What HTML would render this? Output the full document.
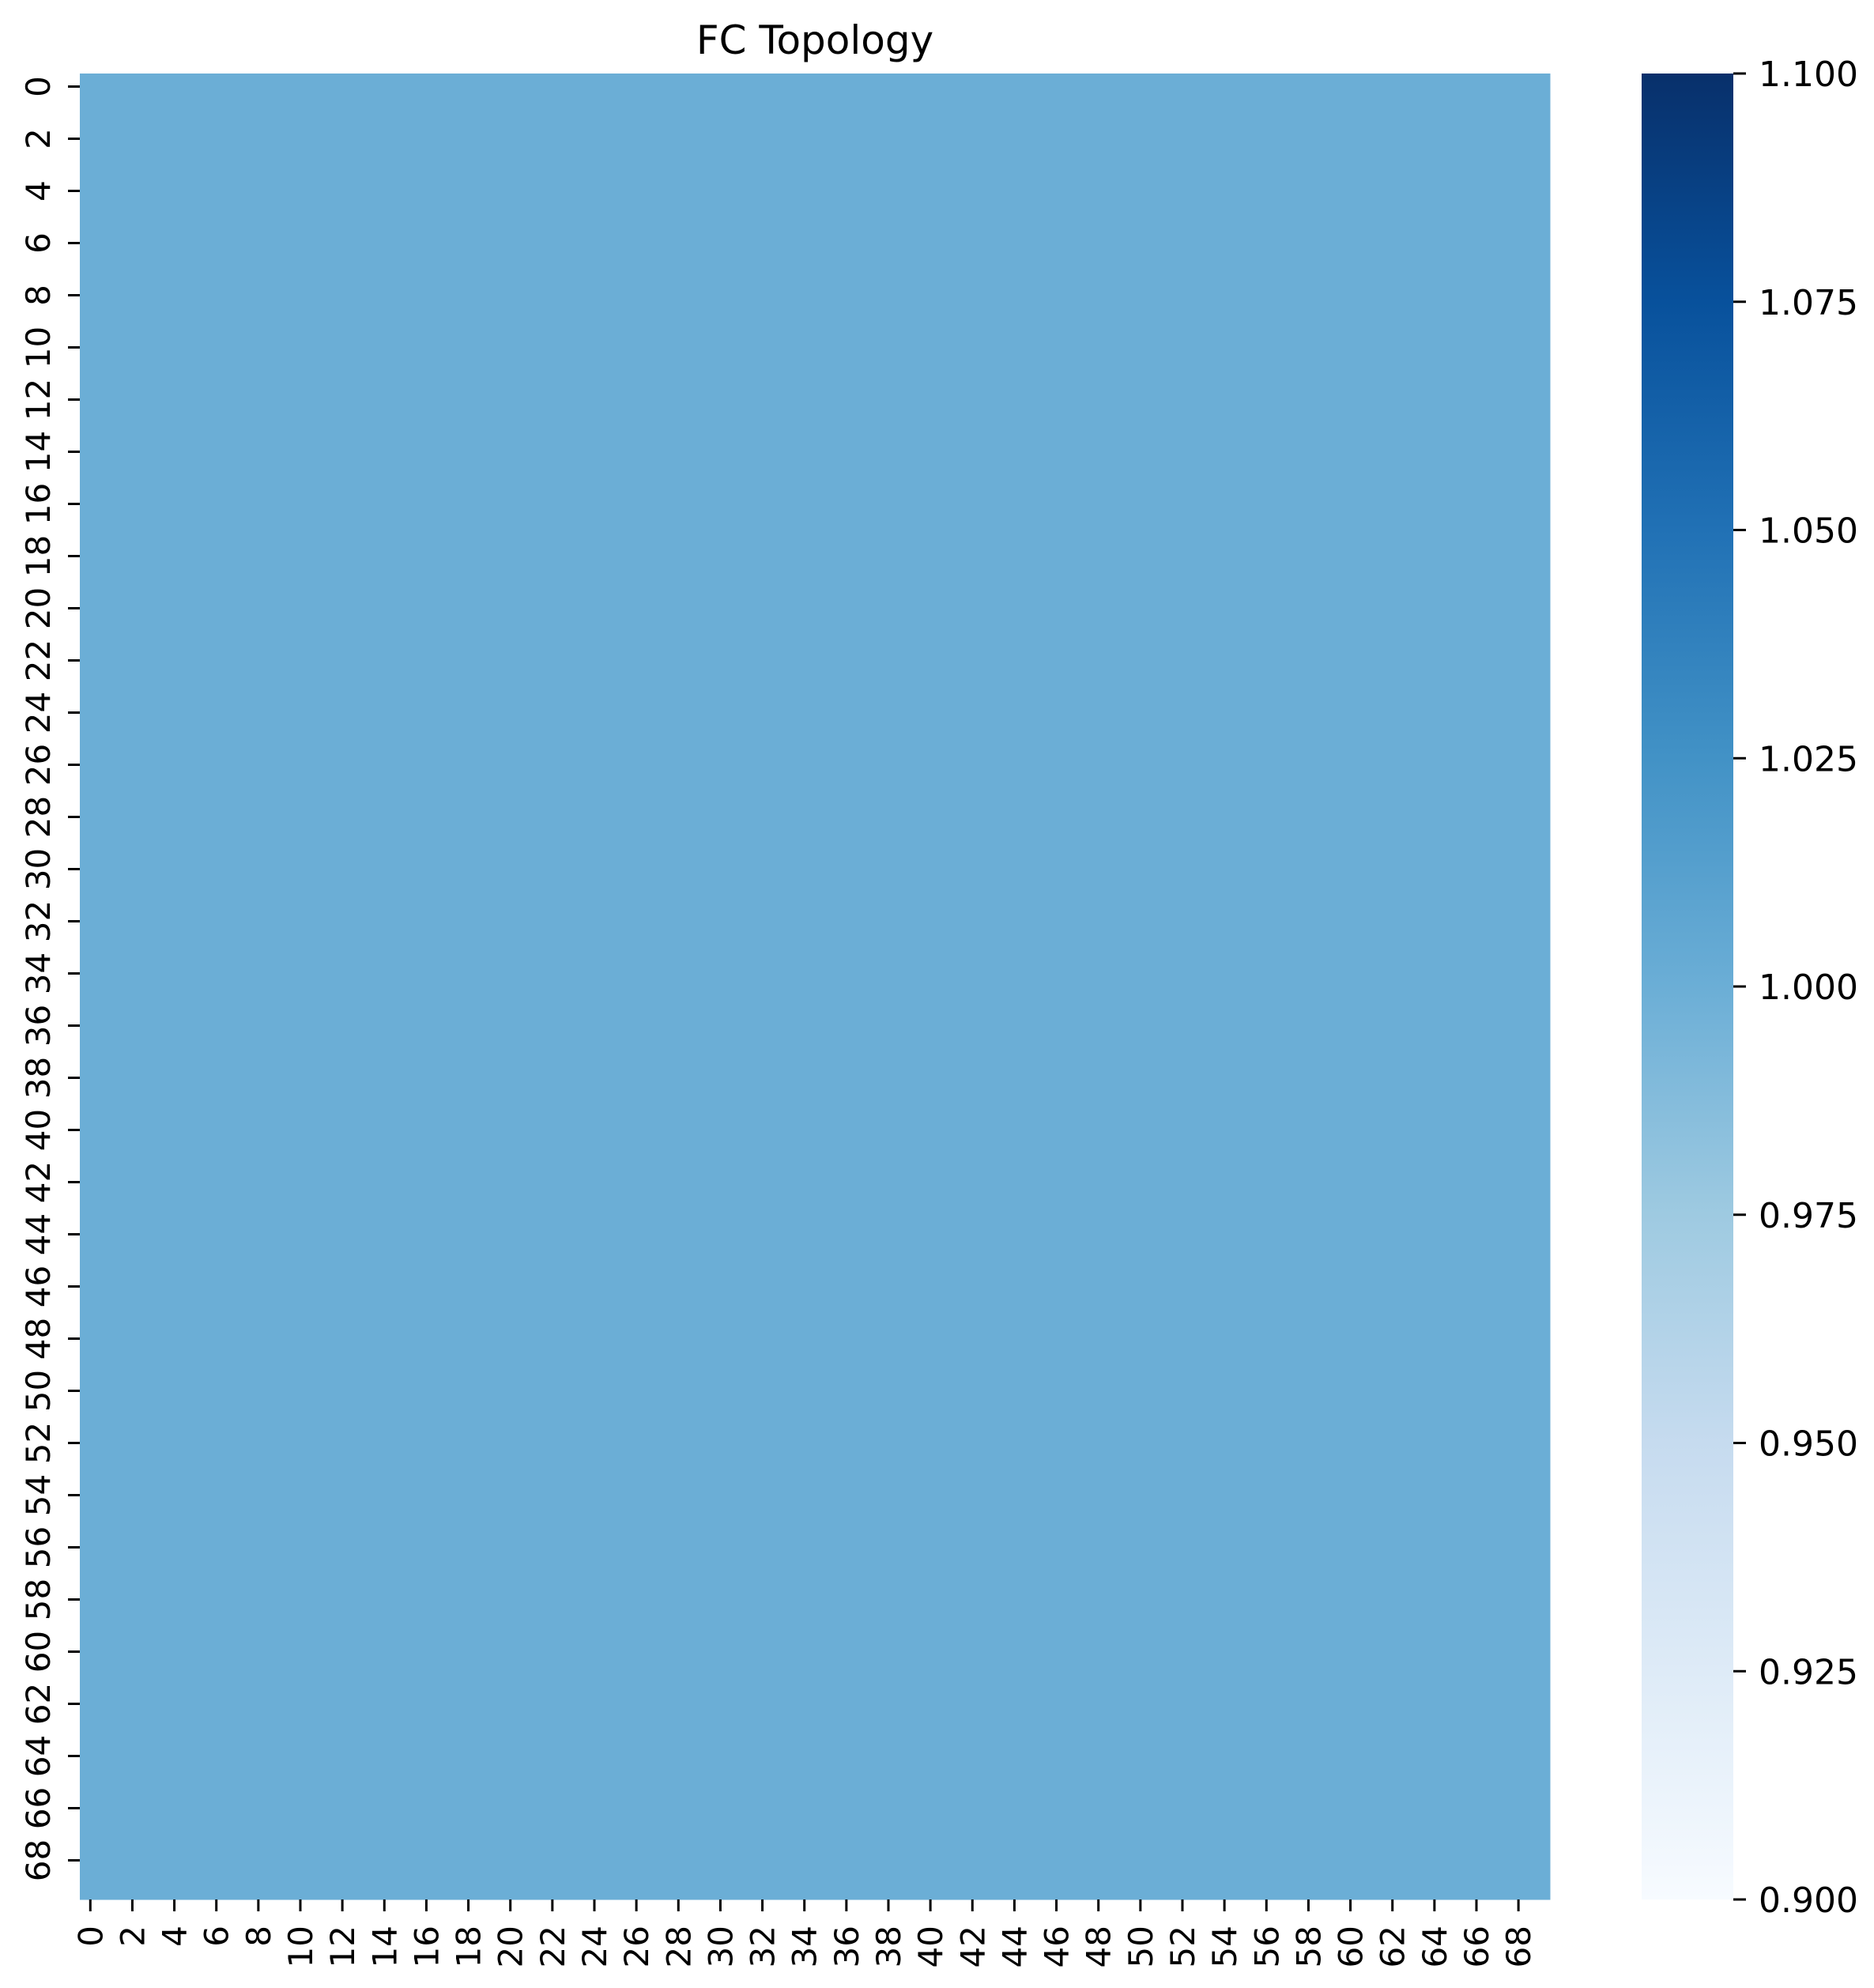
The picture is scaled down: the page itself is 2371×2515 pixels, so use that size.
<!DOCTYPE html>
<html><head><meta charset="utf-8"><style>
html,body{margin:0;padding:0;background:#fff;}
svg{display:block;font-family:"DejaVu Sans","Liberation Sans",sans-serif;}
</style></head><body>
<svg id="chart" width="2371" height="2515" viewBox="0 0 2371 2515" xmlns="http://www.w3.org/2000/svg">
<defs>
<linearGradient id="blues" x1="0" y1="1" x2="0" y2="0">
<stop offset="0" stop-color="#f7fbff"/><stop offset="0.125" stop-color="#deebf7"/><stop offset="0.25" stop-color="#c6dbef"/><stop offset="0.375" stop-color="#9ecae1"/><stop offset="0.5" stop-color="#6baed6"/><stop offset="0.625" stop-color="#4292c6"/><stop offset="0.75" stop-color="#2171b5"/><stop offset="0.875" stop-color="#08519c"/><stop offset="1" stop-color="#08306b"/>
</linearGradient>
</defs>
<text x="1031" y="68" font-size="50" text-anchor="middle">FC Topology</text>
<g id="cells" shape-rendering="crispEdges"></g>
<g id="yaxis"></g>
<g id="xaxis"></g>
<rect x="2077" y="93" width="116" height="2310" fill="url(#blues)"/>
<g id="cbaxis"></g>
</svg>
<script>
const N = 70;
const R = [1,1,1,1,1,1,1,1,1,1,1,1,1,1,1,1,1,1,1,1,1,1,1,1,1,1,1,1,1,1,1,1,1,1,1,1,1,1,1,1,1,1,1,1,1,1,1,1,1,1,1,1,1,1,1,1,1,1,1,1,1,1,1,1,1,1,1,1,1,1];
const values = [R,R,R,R,R,R,R,R,R,R,R,R,R,R,R,R,R,R,R,R,R,R,R,R,R,R,R,R,R,R,R,R,R,R,R,R,R,R,R,R,R,R,R,R,R,R,R,R,R,R,R,R,R,R,R,R,R,R,R,R,R,R,R,R,R,R,R,R,R,R];
const tickLabels = ["0","2","4","6","8","10","12","14","16","18","20","22","24","26","28","30","32","34","36","38","40","42","44","46","48","50","52","54","56","58","60","62","64","66","68"];
const cbTicks = [0.900,0.925,0.950,0.975,1.000,1.025,1.050,1.075,1.100];
const vmin = 0.9, vmax = 1.1;

const L=101,T=93,W=1860,H=2310;
const cw=W/N, ch=H/N;
const xS=i=>L+i*cw, yS=j=>T+j*ch;
const cbY=v=>T+H-(v-vmin)/(vmax-vmin)*H;
const stops=[[247,251,255],[222,235,247],[198,219,239],[158,202,225],[107,174,214],[66,146,198],[33,113,181],[8,81,156],[8,48,107]];
function color(v){let t=Math.max(0,Math.min(1,(v-vmin)/(vmax-vmin)))*8;let i=Math.min(7,Math.floor(t)),f=t-i;const a=stops[i],b=stops[i+1];return 'rgb('+a.map((c,k)=>Math.round(c+(b[k]-c)*f)).join(',')+')';}
const NS='http://www.w3.org/2000/svg';
function mk(tag,attrs,parent){const e=document.createElementNS(NS,tag);for(const k in attrs)e.setAttribute(k,attrs[k]);parent.appendChild(e);return e;}
const cells=document.getElementById('cells');
for(let r=0;r<N;r++)for(let c=0;c<N;c++){
 const e=mk('rect',{x:xS(c),y:yS(r),width:cw+0.6,height:ch+0.6,fill:color(values[r][c])},cells);
 
 
}
const ya=document.getElementById('yaxis'), xa=document.getElementById('xaxis');
tickLabels.forEach(lbl=>{
 const i=+lbl;
 const y=yS(i)+ch/2;
 const t1=mk('line',{x1:86,x2:101,y1:y,y2:y,stroke:'#000','stroke-width':3},ya);
 
 
 const yl=mk('text',{x:0,y:0,'font-size':42,'text-anchor':'middle',transform:'translate(63,'+y+') rotate(-90)'},ya);
 
 
 yl.textContent=lbl;
 const x=xS(i)+cw/2;
 const t2=mk('line',{x1:x,x2:x,y1:2403,y2:2418,stroke:'#000','stroke-width':3},xa);
 
 
 const xl=mk('text',{x:0,y:0,'font-size':42,'text-anchor':'end',transform:'translate('+(x+15)+',2436) rotate(-90)'},xa);
 
 
 xl.textContent=lbl;
});
const cb=document.getElementById('cbaxis');
cbTicks.forEach(v=>{
 const y=cbY(v);
 const t=mk('line',{x1:2193,x2:2209,y1:y,y2:y,stroke:'#000','stroke-width':3},cb);
 
 
 const tx=mk('text',{x:2225,y:y+16,'font-size':44},cb);
 
 
 tx.textContent=v.toFixed(3);
});
</script>
</body></html>
